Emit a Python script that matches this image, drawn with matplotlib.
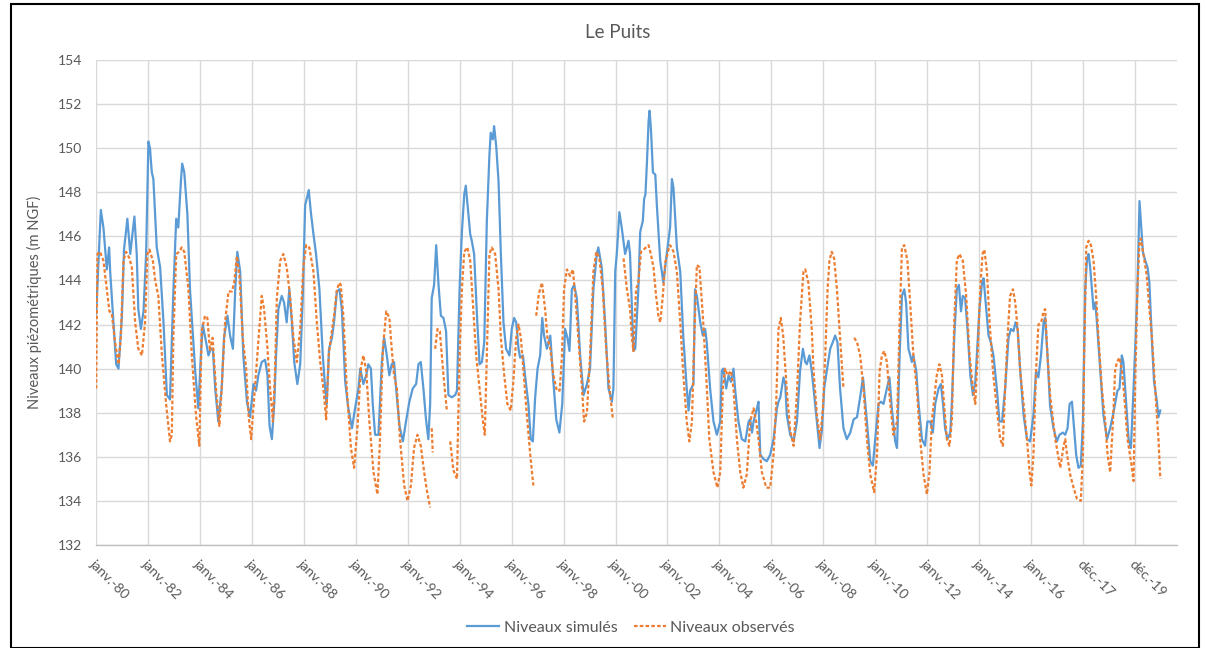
import numpy as np
import matplotlib
matplotlib.use("Agg")
import matplotlib.pyplot as plt
import matplotlib.dates as mdates
from matplotlib.patches import Rectangle
from datetime import datetime, timedelta

# ---------------------------------------------------------------- data
title = "Le Puits"
y_label = "Niveaux piézométriques (m NGF)"
series_names = ["Niveaux simulés", "Niveaux observés"]
y_ticks = list(range(132, 155, 2))
months_fr = ["janv.", "févr.", "mars", "avr.", "mai", "juin",
             "juil.", "août", "sept.", "oct.", "nov.", "déc."]
axis_start = datetime(1980, 1, 10)
tick_step_days = 730
n_ticks = 21
axis_span_days = 15190

# (decimal year, level in m NGF)
simulated = [
    (1980.03, 142.5), (1980.21, 147.2), (1980.31, 146.4), (1980.44, 144.5), (1980.53, 145.5),
    (1980.57, 144.4), (1980.63, 143.3), (1980.80, 140.2), (1980.89, 140.0), (1981.02, 142.4),
    (1981.10, 145.4), (1981.23, 146.8), (1981.34, 145.2), (1981.50, 146.9), (1981.59, 145.2),
    (1981.65, 142.7), (1981.75, 141.8), (1981.85, 142.6), (1981.95, 145.2), (1982.04, 150.3),
    (1982.10, 150.0), (1982.17, 148.9), (1982.23, 148.6), (1982.36, 145.5), (1982.49, 144.6),
    (1982.62, 142.1), (1982.75, 138.8), (1982.87, 138.6), (1983.00, 143.5), (1983.11, 146.8),
    (1983.19, 146.4), (1983.29, 148.5), (1983.34, 149.3), (1983.42, 148.9), (1983.54, 147.0),
    (1983.64, 143.6), (1983.84, 139.9), (1983.96, 138.2), (1984.06, 140.6), (1984.13, 142.0),
    (1984.26, 141.2), (1984.35, 140.6), (1984.44, 140.9), (1984.52, 140.9), (1984.61, 139.1),
    (1984.73, 137.6), (1984.86, 139.1), (1984.95, 141.4), (1985.08, 142.4), (1985.18, 141.5),
    (1985.29, 140.9), (1985.38, 143.6), (1985.46, 145.3), (1985.57, 144.4), (1985.69, 140.6),
    (1985.83, 138.5), (1985.95, 137.8), (1986.08, 139.3), (1986.18, 139.0), (1986.27, 139.7),
    (1986.40, 140.3), (1986.53, 140.4), (1986.62, 139.7), (1986.70, 137.4), (1986.79, 136.8),
    (1986.88, 138.4), (1986.95, 140.6), (1987.04, 142.7), (1987.17, 143.3), (1987.26, 143.0),
    (1987.36, 142.1), (1987.46, 143.6), (1987.56, 142.1), (1987.65, 140.3), (1987.77, 139.3),
    (1987.88, 140.2), (1987.98, 143.3), (1988.07, 147.4), (1988.13, 147.7), (1988.21, 148.1),
    (1988.29, 147.1), (1988.39, 146.1), (1988.49, 145.2), (1988.62, 143.6), (1988.75, 140.6),
    (1988.84, 139.1), (1988.90, 138.4), (1988.99, 140.9), (1989.10, 141.4), (1989.18, 142.1),
    (1989.29, 143.5), (1989.39, 143.6), (1989.48, 142.7), (1989.61, 139.4), (1989.73, 138.2),
    (1989.87, 137.3), (1989.99, 138.2), (1990.12, 139.1), (1990.19, 140.0), (1990.31, 139.3),
    (1990.42, 139.7), (1990.50, 140.2), (1990.60, 140.0), (1990.67, 138.4), (1990.76, 137.0),
    (1990.89, 137.0), (1991.02, 140.3), (1991.11, 141.4), (1991.21, 140.6), (1991.31, 139.7),
    (1991.40, 140.2), (1991.49, 140.3), (1991.57, 139.1), (1991.70, 137.4), (1991.83, 136.7),
    (1991.95, 137.6), (1992.08, 138.5), (1992.21, 139.1), (1992.34, 139.3), (1992.43, 140.2),
    (1992.52, 140.3), (1992.62, 139.1), (1992.72, 137.7), (1992.81, 136.8), (1992.88, 138.4),
    (1992.94, 143.2), (1993.03, 143.8), (1993.11, 145.6), (1993.20, 143.8), (1993.29, 142.4),
    (1993.39, 142.3), (1993.49, 141.7), (1993.58, 138.8), (1993.71, 138.7), (1993.84, 138.8),
    (1993.91, 139.0), (1994.01, 143.6), (1994.10, 146.2), (1994.19, 147.9), (1994.25, 148.3),
    (1994.35, 147.0), (1994.42, 146.1), (1994.48, 145.8), (1994.57, 145.2), (1994.68, 142.4),
    (1994.78, 140.2), (1994.87, 140.3), (1994.96, 141.2), (1995.06, 146.7), (1995.16, 149.7),
    (1995.21, 150.7), (1995.29, 150.4), (1995.34, 151.0), (1995.42, 150.1), (1995.51, 148.5),
    (1995.60, 145.2), (1995.70, 142.1), (1995.80, 140.9), (1995.93, 140.6), (1996.02, 141.8),
    (1996.11, 142.3), (1996.19, 142.1), (1996.28, 140.9), (1996.34, 140.5), (1996.45, 140.6),
    (1996.53, 139.7), (1996.66, 138.4), (1996.75, 136.8), (1996.83, 136.7), (1996.92, 138.7),
    (1997.01, 140.0), (1997.11, 140.6), (1997.19, 142.3), (1997.26, 141.5), (1997.37, 140.9),
    (1997.50, 141.5), (1997.60, 139.7), (1997.73, 137.7), (1997.85, 137.1), (1997.96, 138.4),
    (1998.07, 141.8), (1998.16, 141.4), (1998.24, 140.8), (1998.33, 143.6), (1998.42, 143.8),
    (1998.52, 143.2), (1998.65, 140.6), (1998.78, 138.8), (1998.91, 139.3), (1999.03, 140.0),
    (1999.16, 143.6), (1999.29, 145.2), (1999.35, 145.5), (1999.48, 144.6), (1999.61, 142.1),
    (1999.74, 139.1), (1999.87, 138.5), (1999.93, 139.1), (2000.00, 144.4), (2000.06, 145.2),
    (2000.16, 147.1), (2000.25, 146.4), (2000.38, 145.2), (2000.45, 145.5), (2000.51, 145.8),
    (2000.57, 145.2), (2000.64, 142.9), (2000.70, 140.8), (2000.77, 140.9), (2000.89, 143.6),
    (2000.96, 146.2), (2001.06, 146.7), (2001.11, 147.7), (2001.16, 147.9), (2001.22, 149.4),
    (2001.28, 151.2), (2001.32, 151.7), (2001.37, 150.9), (2001.45, 148.9), (2001.54, 148.8),
    (2001.60, 147.4), (2001.73, 144.9), (2001.85, 143.9), (2001.98, 145.2), (2002.11, 146.4),
    (2002.18, 148.6), (2002.24, 148.2), (2002.37, 145.5), (2002.50, 144.4), (2002.62, 141.4),
    (2002.75, 139.1), (2002.82, 138.1), (2002.88, 139.0), (2003.01, 139.3), (2003.07, 143.6),
    (2003.14, 143.3), (2003.27, 142.1), (2003.37, 141.5), (2003.46, 141.8), (2003.52, 141.2),
    (2003.65, 139.1), (2003.78, 137.6), (2003.91, 137.0), (2004.04, 137.6), (2004.10, 139.9),
    (2004.16, 140.0), (2004.27, 139.1), (2004.36, 139.7), (2004.45, 139.4), (2004.55, 140.0),
    (2004.61, 139.1), (2004.74, 137.6), (2004.87, 136.8), (2005.00, 136.7), (2005.13, 137.6),
    (2005.19, 137.7), (2005.26, 137.1), (2005.32, 137.6), (2005.45, 138.2), (2005.51, 138.5),
    (2005.58, 136.1), (2005.70, 135.9), (2005.83, 135.8), (2005.96, 136.1), (2006.09, 136.8),
    (2006.22, 138.2), (2006.28, 138.5), (2006.35, 138.7), (2006.47, 139.6), (2006.54, 139.3),
    (2006.60, 137.9), (2006.73, 137.0), (2006.86, 136.7), (2006.99, 137.6), (2007.11, 139.9),
    (2007.22, 140.9), (2007.31, 140.3), (2007.37, 140.2), (2007.47, 140.6), (2007.56, 139.9),
    (2007.69, 138.4), (2007.86, 136.4), (2007.95, 137.2), (2008.04, 139.1), (2008.14, 139.9),
    (2008.27, 140.9), (2008.37, 141.2), (2008.46, 141.5), (2008.55, 141.2), (2008.65, 139.1),
    (2008.78, 137.3), (2008.91, 136.8), (2009.04, 137.1), (2009.17, 137.7), (2009.30, 137.8),
    (2009.42, 138.7), (2009.53, 139.6), (2009.68, 137.6), (2009.81, 135.8), (2009.91, 135.6),
    (2010.00, 136.8), (2010.13, 138.4), (2010.22, 138.5), (2010.32, 138.4), (2010.45, 139.1),
    (2010.55, 139.6), (2010.64, 138.2), (2010.77, 136.7), (2010.84, 136.4), (2010.94, 140.6),
    (2011.03, 143.3), (2011.12, 143.6), (2011.19, 143.0), (2011.28, 140.9), (2011.35, 140.6),
    (2011.41, 140.3), (2011.47, 140.6), (2011.58, 139.9), (2011.67, 138.4), (2011.80, 136.8),
    (2011.92, 136.5), (2012.01, 137.6), (2012.12, 137.6), (2012.22, 137.1), (2012.31, 138.4),
    (2012.44, 139.1), (2012.53, 139.3), (2012.61, 138.4), (2012.69, 137.3), (2012.78, 136.8),
    (2012.89, 137.1), (2012.95, 138.4), (2013.04, 141.4), (2013.14, 143.6), (2013.22, 143.8),
    (2013.30, 142.6), (2013.37, 143.3), (2013.46, 143.2), (2013.55, 141.8), (2013.66, 139.7),
    (2013.76, 138.8), (2013.85, 139.4), (2013.91, 140.6), (2014.01, 142.7), (2014.11, 143.9),
    (2014.17, 144.1), (2014.27, 142.7), (2014.36, 141.5), (2014.45, 141.2), (2014.55, 140.6),
    (2014.68, 139.1), (2014.78, 137.6), (2014.88, 137.6), (2015.00, 139.1), (2015.13, 141.4),
    (2015.22, 141.8), (2015.32, 141.7), (2015.40, 142.1), (2015.48, 141.8), (2015.58, 139.9),
    (2015.71, 137.9), (2015.84, 136.8), (2015.96, 136.7), (2016.09, 137.9), (2016.19, 139.9),
    (2016.28, 139.6), (2016.38, 140.6), (2016.48, 142.1), (2016.54, 142.3), (2016.63, 140.6),
    (2016.73, 138.3), (2016.86, 137.3), (2016.99, 136.7), (2017.09, 137.0), (2017.22, 137.1),
    (2017.31, 137.0), (2017.40, 137.3), (2017.48, 138.4), (2017.57, 138.5), (2017.63, 137.6),
    (2017.73, 136.1), (2017.82, 135.5), (2017.91, 135.6), (2017.99, 137.6), (2018.08, 143.6),
    (2018.15, 145.0), (2018.21, 145.2), (2018.27, 144.6), (2018.34, 143.6), (2018.40, 142.7),
    (2018.47, 143.0), (2018.53, 142.1), (2018.66, 139.9), (2018.78, 137.9), (2018.92, 136.8),
    (2019.04, 137.3), (2019.15, 137.9), (2019.23, 138.4), (2019.32, 139.0), (2019.40, 139.1),
    (2019.49, 140.6), (2019.55, 140.3), (2019.66, 138.4), (2019.75, 136.8), (2019.84, 136.4),
    (2019.94, 139.1), (2020.02, 141.4), (2020.09, 143.6), (2020.17, 147.6), (2020.22, 146.7),
    (2020.30, 145.3), (2020.39, 144.9), (2020.48, 144.6), (2020.55, 143.9), (2020.65, 141.2),
    (2020.73, 139.4), (2020.84, 138.5), (2020.90, 137.8), (2020.97, 138.1),
]

# None marks a gap in the observation record
observed = [
    (1980.03, 139.1), (1980.08, 145.2), (1980.18, 145.3), (1980.31, 144.9), (1980.44, 143.6),
    (1980.54, 142.6), (1980.63, 142.5), (1980.76, 141.2), (1980.89, 140.2), (1980.98, 141.4),
    (1981.08, 144.9), (1981.18, 145.3), (1981.31, 145.0), (1981.40, 144.6), (1981.53, 142.1),
    (1981.65, 140.9), (1981.79, 140.6), (1981.91, 142.1), (1982.00, 145.2), (1982.08, 145.4),
    (1982.21, 144.9), (1982.30, 144.0), (1982.42, 143.3), (1982.56, 140.6), (1982.72, 138.4),
    (1982.87, 136.7), (1982.94, 137.0), (1983.00, 141.4), (1983.11, 145.2), (1983.23, 145.3),
    (1983.32, 145.5), (1983.42, 145.3), (1983.58, 143.6), (1983.71, 140.6), (1983.87, 137.9),
    (1984.00, 136.5), (1984.09, 141.7), (1984.22, 142.4), (1984.31, 142.3), (1984.41, 140.8),
    (1984.51, 141.4), (1984.64, 139.1), (1984.77, 137.4), (1984.86, 139.1), (1984.99, 142.1),
    (1985.12, 143.5), (1985.25, 143.5), (1985.34, 143.9), (1985.44, 145.1), (1985.54, 144.2),
    (1985.67, 141.4), (1985.80, 140.0), (1985.89, 137.9), (1985.99, 136.8), (1986.08, 138.2),
    (1986.21, 140.3), (1986.34, 142.4), (1986.40, 143.3), (1986.49, 142.7), (1986.62, 140.9),
    (1986.72, 139.1), (1986.83, 137.6), (1986.91, 139.9), (1986.98, 143.2), (1987.11, 144.9),
    (1987.23, 145.2), (1987.36, 144.6), (1987.49, 143.3), (1987.62, 141.4), (1987.75, 140.3),
    (1987.88, 141.8), (1988.00, 144.6), (1988.11, 145.6), (1988.23, 145.5), (1988.39, 144.4),
    (1988.52, 142.1), (1988.65, 140.3), (1988.77, 139.1), (1988.88, 137.7), (1988.98, 140.6),
    (1989.06, 141.4), (1989.18, 142.4), (1989.29, 143.6), (1989.39, 143.9), (1989.44, 143.8),
    (1989.54, 142.4), (1989.67, 139.1), (1989.83, 136.4), (1989.95, 135.5), (1990.08, 137.3),
    (1990.21, 140.0), (1990.31, 140.6), (1990.42, 139.9), (1990.54, 137.6), (1990.70, 135.3),
    (1990.85, 134.3), (1990.95, 136.8), (1991.06, 140.9), (1991.19, 142.6), (1991.31, 142.3),
    (1991.40, 140.9), (1991.49, 139.7), (1991.60, 139.1), (1991.72, 136.8), (1991.88, 134.7),
    (1992.01, 134.0), (1992.14, 134.7), (1992.26, 136.4), (1992.39, 137.0), (1992.52, 136.5),
    (1992.65, 135.3), (1992.75, 134.5), (1992.88, 133.7), (1992.90, None),
    (1992.94, 137.3), (1992.98, 136.2), (1993.02, None),
    (1993.07, 140.9), (1993.16, 141.8), (1993.25, 141.7), (1993.39, 139.7), (1993.52, 138.1),
    (1993.58, None),
    (1993.65, 136.7), (1993.77, 135.4), (1993.91, 135.0), (1994.01, 140.6), (1994.10, 143.6),
    (1994.19, 145.3), (1994.31, 145.5), (1994.42, 144.9), (1994.52, 143.0), (1994.65, 140.6),
    (1994.78, 139.1), (1994.91, 137.6), (1994.98, 137.0), (1995.06, 140.6), (1995.16, 145.2),
    (1995.25, 145.5), (1995.38, 145.2), (1995.51, 143.6), (1995.60, 141.4), (1995.73, 139.7),
    (1995.85, 138.4), (1995.98, 138.1), (1996.08, 139.4), (1996.19, 141.4), (1996.28, 142.0),
    (1996.37, 141.4), (1996.47, 139.9), (1996.60, 137.9), (1996.73, 136.1), (1996.85, 134.7),
    (1996.90, None),
    (1996.96, 142.4), (1997.06, 143.4), (1997.18, 143.9), (1997.30, 142.7), (1997.39, 141.4),
    (1997.50, 140.9), (1997.62, 139.7), (1997.75, 139.0), (1997.86, 139.0), (1997.95, 140.6),
    (1998.03, 143.6), (1998.14, 144.5), (1998.26, 144.2), (1998.37, 144.5), (1998.46, 143.3),
    (1998.58, 141.4), (1998.72, 139.1), (1998.80, 137.6), (1998.91, 138.0), (1999.03, 140.6),
    (1999.16, 144.4), (1999.27, 145.3), (1999.39, 145.0), (1999.52, 143.6), (1999.65, 140.9),
    (1999.78, 139.1), (1999.91, 137.7), (2000.10, None),
    (2000.32, 145.0), (2000.45, 143.6), (2000.57, 142.7), (2000.64, 141.4), (2000.70, 140.8),
    (2000.80, 143.6), (2000.89, 143.9), (2000.99, 145.3), (2001.09, 145.4), (2001.28, 145.6),
    (2001.37, 145.2), (2001.47, 144.6), (2001.57, 143.3), (2001.66, 142.4), (2001.73, 142.1),
    (2001.83, 143.3), (2001.92, 144.8), (2002.05, 145.4), (2002.11, 145.6), (2002.24, 145.3),
    (2002.37, 144.4), (2002.50, 142.1), (2002.62, 139.7), (2002.75, 137.6), (2002.85, 136.7),
    (2002.95, 137.6), (2003.04, 141.4), (2003.14, 144.7), (2003.24, 144.6), (2003.37, 142.4),
    (2003.50, 139.7), (2003.62, 136.8), (2003.78, 135.3), (2003.93, 134.6), (2004.04, 135.3),
    (2004.14, 139.1), (2004.23, 140.0), (2004.32, 139.7), (2004.45, 139.9), (2004.55, 139.1),
    (2004.68, 136.8), (2004.81, 135.3), (2004.93, 134.6), (2005.06, 135.2), (2005.19, 137.6),
    (2005.32, 138.2), (2005.42, 137.6), (2005.51, 136.8), (2005.64, 135.3), (2005.81, 134.6),
    (2005.96, 134.6), (2006.09, 136.1), (2006.19, 138.4), (2006.28, 141.8), (2006.37, 142.3),
    (2006.46, 141.5), (2006.60, 139.0), (2006.73, 137.2), (2006.86, 136.5), (2006.99, 138.9),
    (2007.11, 142.1), (2007.24, 144.4), (2007.31, 144.5), (2007.43, 143.9), (2007.56, 141.8),
    (2007.63, 139.9), (2007.76, 137.9), (2007.88, 136.8), (2007.99, 138.2), (2008.08, 140.6),
    (2008.17, 143.6), (2008.24, 144.9), (2008.33, 145.3), (2008.42, 145.0), (2008.53, 143.6),
    (2008.65, 141.4), (2008.78, 139.1), (2008.98, None),
    (2009.19, 141.4), (2009.30, 141.2), (2009.42, 140.6), (2009.55, 139.1), (2009.68, 136.8),
    (2009.81, 135.2), (2009.96, 134.4), (2010.07, 136.1), (2010.17, 139.9), (2010.26, 140.6),
    (2010.35, 140.8), (2010.45, 140.3), (2010.58, 138.4), (2010.70, 137.0), (2010.84, 137.6),
    (2010.94, 142.1), (2011.03, 145.5), (2011.12, 145.6), (2011.24, 144.9), (2011.35, 142.9),
    (2011.47, 140.6), (2011.60, 139.1), (2011.73, 136.8), (2011.86, 135.2), (2011.99, 134.3),
    (2012.09, 135.3), (2012.18, 137.6), (2012.37, 139.7), (2012.47, 140.2), (2012.57, 139.7),
    (2012.65, 138.4), (2012.76, 136.8), (2012.86, 136.5), (2012.95, 137.6), (2013.04, 142.1),
    (2013.14, 144.9), (2013.24, 145.2), (2013.37, 144.9), (2013.50, 143.3), (2013.63, 140.6),
    (2013.76, 139.1), (2013.85, 138.4), (2013.94, 140.6), (2014.04, 143.6), (2014.13, 145.2),
    (2014.20, 145.4), (2014.30, 144.4), (2014.40, 142.1), (2014.53, 139.9), (2014.66, 138.4),
    (2014.81, 136.8), (2014.91, 136.5), (2015.00, 139.1), (2015.09, 141.4), (2015.19, 143.3),
    (2015.30, 143.6), (2015.39, 143.0), (2015.48, 141.8), (2015.58, 139.9), (2015.71, 138.4),
    (2015.84, 136.8), (2015.94, 135.3), (2016.01, 134.7), (2016.09, 136.1), (2016.19, 139.9),
    (2016.28, 142.0), (2016.39, 142.1), (2016.48, 142.6), (2016.54, 142.7), (2016.63, 140.6),
    (2016.73, 138.8), (2016.93, 136.8), (2017.12, 135.5), (2017.25, 136.5), (2017.31, 136.8),
    (2017.38, 136.1), (2017.50, 135.2), (2017.63, 134.6), (2017.76, 134.1), (2017.91, 134.0),
    (2017.99, 136.1), (2018.04, 140.6), (2018.12, 145.5), (2018.21, 145.8), (2018.30, 145.6),
    (2018.40, 144.9), (2018.50, 143.3), (2018.59, 141.4), (2018.72, 139.1), (2018.85, 137.6),
    (2018.94, 136.1), (2019.04, 135.3), (2019.15, 137.6), (2019.23, 139.9), (2019.30, 140.3),
    (2019.40, 140.5), (2019.49, 139.9), (2019.58, 138.8), (2019.71, 136.8), (2019.84, 135.8),
    (2019.94, 134.9), (2020.00, 139.1), (2020.09, 143.6), (2020.17, 145.8), (2020.22, 145.9),
    (2020.32, 145.2), (2020.45, 144.2), (2020.55, 142.7), (2020.65, 141.4), (2020.73, 139.9),
    (2020.81, 138.4), (2020.90, 136.8), (2020.97, 135.0),
]


def year_to_num(y):
    """Decimal year -> matplotlib date number."""
    yr = int(y)
    return mdates.date2num(datetime(yr, 1, 1)) + (y - yr) * 365.25


def unpack(points):
    x = np.array([year_to_num(p[0]) for p in points])
    v = np.array([np.nan if p[1] is None else p[1] for p in points], dtype=float)
    return x, v


sim_x, sim_v = unpack(simulated)
obs_x, obs_v = unpack(observed)

# ---------------------------------------------------------------- style
font = "Lato"
text_grey = "#595959"
grid_grey = "#D9D9D9"
blue = "#5B9BD5"
orange = "#ED7D31"
plt.rcParams["font.family"] = [font, "DejaVu Sans"]

W, H = 1206, 648
fig = plt.figure(figsize=(W / 100, H / 100), dpi=100)
fig.patch.set_facecolor("white")

left, right, top, bottom = 96, 1177, 60, 545
ax = fig.add_axes([left / W, 1 - bottom / H, (right - left) / W, (bottom - top) / H])

ax.plot(sim_x, sim_v, color=blue, lw=1.6, solid_joinstyle="round",
        label=series_names[0], zorder=3)
ax.plot(obs_x, obs_v, color=orange, lw=1.6, linestyle=(0, (1.6, 1.0)),
        label=series_names[1], zorder=4)

# date axis: ticks every 730 days from the first record
x0 = mdates.date2num(axis_start)
tick_dates = [axis_start + timedelta(days=tick_step_days * k) for k in range(n_ticks)]
tick_pos = [mdates.date2num(d) for d in tick_dates]
tick_labels = [f"{months_fr[d.month - 1]}-{d.year % 100:02d}" for d in tick_dates]

ax.set_xlim(x0, x0 + axis_span_days)
ax.set_ylim(132, 154)
ax.set_xticks(tick_pos)
ax.set_xticklabels(tick_labels, rotation=-45, ha="left", va="top",
                   rotation_mode="anchor")
ax.set_yticks(y_ticks)
ax.set_yticklabels([str(t) for t in y_ticks])

ax.tick_params(axis="both", length=0, colors=text_grey, labelsize=10)
ax.tick_params(axis="y", pad=10)
ax.tick_params(axis="x", pad=9)
ax.grid(True, color=grid_grey, lw=1.0)
ax.set_axisbelow(True)
for s in ("top", "right", "left"):
    ax.spines[s].set_visible(False)
ax.spines["bottom"].set_color("#BFBFBF")
ax.spines["bottom"].set_linewidth(1.0)

ax.set_ylabel(y_label, color=text_grey, fontsize=10.5, labelpad=11)
fig.text(618 / W, 1 - 32 / H, title, ha="center", va="center",
         color=text_grey, fontsize=13.5)

fig.legend(loc="center", bbox_to_anchor=(631 / W, 1 - 628 / H), ncol=2,
           frameon=False, fontsize=11.5, handlelength=2.0, columnspacing=1.0,
           handletextpad=0.3, labelcolor=text_grey)

# outer frame
fig.add_artist(Rectangle((11 / W, 0.5 / H), (1199 - 11) / W, (643.5) / H,
                         transform=fig.transFigure, fill=False,
                         edgecolor="black", lw=1.5))

fig.savefig("out.png", dpi=100, facecolor="white")
